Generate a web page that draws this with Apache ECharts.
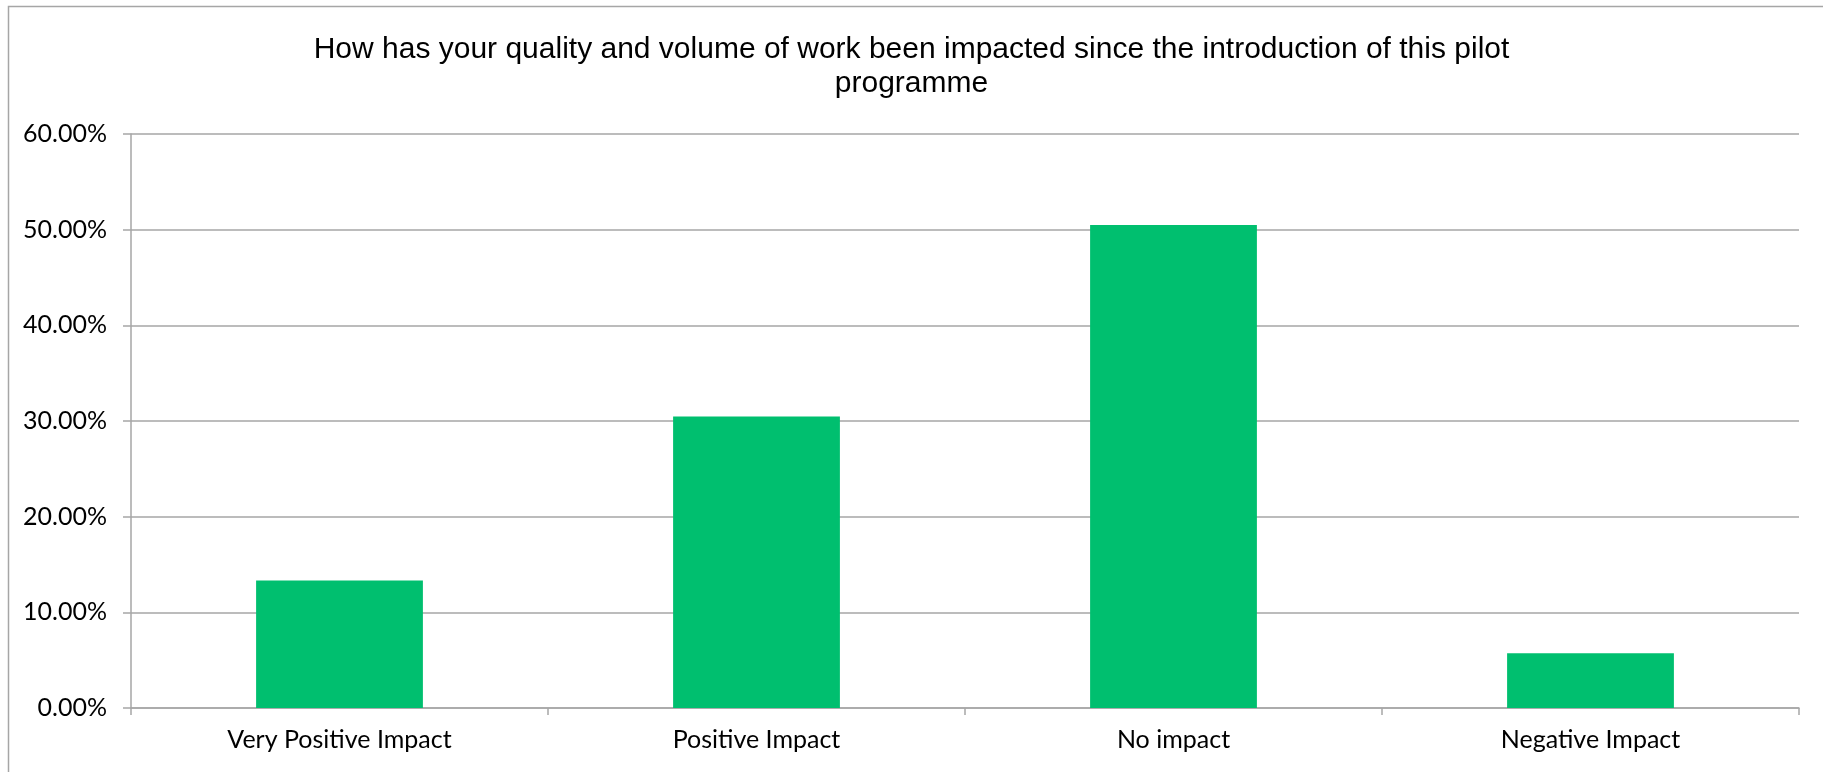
<!DOCTYPE html>
<html>
<head>
<meta charset="utf-8">
<script src="https://cdn.jsdelivr.net/npm/echarts@6/dist/echarts.min.js"></script>
<style>
html,body{margin:0;padding:0;background:#fff;}
#chart{width:1823px;height:772px;}
</style>
</head>
<body>
<div id="chart"></div>
<script>
const categories = ['Very Positive Impact', 'Positive Impact', 'No impact', 'Negative Impact'];
const values = [0.1333, 0.3048, 0.5048, 0.0571];
const titleText = 'How has your quality and volume of work been impacted since the introduction of this pilot\nprogramme';

const chart = echarts.init(document.getElementById('chart'), null, {renderer: 'canvas'});
chart.setOption({
  backgroundColor: '#ffffff',
  animation: false,
  title: {
    text: titleText,
    left: '50%',
    textAlign: 'center',
    top: 33,
    padding: 0,
    textStyle: {
      fontFamily: 'Liberation Sans, Arial, sans-serif',
      fontSize: 30,
      fontWeight: 'normal',
      color: '#000',
      lineHeight: 34
    }
  },
  graphic: [{
    type: 'rect',
    shape: {x: 8.5, y: 6.5, width: 2000, height: 1000},
    style: {fill: 'none', stroke: '#A6A6A6', lineWidth: 1.5},
    silent: true,
    z: -1
  }],
  grid: {left: 131, right: 24, top: 134, bottom: 64},
  xAxis: {
    type: 'category',
    data: categories,
    axisLine: {show: true, lineStyle: {color: '#A6A6A6', width: 1.5}},
    axisTick: {show: true, length: 7, lineStyle: {color: '#A6A6A6', width: 1.5}},
    axisLabel: {
      margin: 19,
      fontFamily: 'Lato, Open Sans, sans-serif',
      fontSize: 25,
      color: '#000'
    }
  },
  yAxis: {
    type: 'value',
    min: 0,
    max: 0.6,
    interval: 0.1,
    axisLine: {show: true, lineStyle: {color: '#A6A6A6', width: 1.5}},
    axisTick: {show: true, length: 8, lineStyle: {color: '#A6A6A6', width: 1.5}},
    splitLine: {show: true, lineStyle: {color: '#A6A6A6', width: 1.5}},
    axisLabel: {
      margin: 24,
      fontFamily: 'Lato, Open Sans, sans-serif',
      fontSize: 25,
      color: '#000',
      formatter: v => (v * 100).toFixed(2) + '%'
    }
  },
  series: [{
    type: 'bar',
    data: values,
    barCategoryGap: '60%',
    itemStyle: {color: '#00BF6F'}
  }]
});
</script>
</body>
</html>
